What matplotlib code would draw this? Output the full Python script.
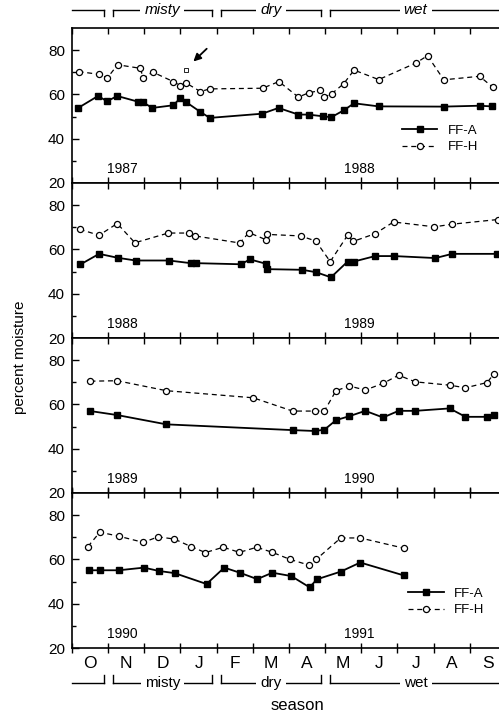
import matplotlib
matplotlib.use("Agg")
import matplotlib.pyplot as plt
from matplotlib.lines import Line2D
import matplotlib.transforms as mtransforms

# months counted from 1 October (0 = start of Oct, 12 = end of Sep)
month_labels = ['O', 'N', 'D', 'J', 'F', 'M', 'A', 'M', 'J', 'J', 'A', 'S']

# FF-A (closed squares), one list per panel
ffa_month = [
    [0.17, 0.72, 0.97, 1.25, 1.83, 1.97, 2.22, 2.80, 3.00, 3.15, 3.55, 3.81,
     5.26, 5.71, 6.26, 6.54, 6.95, 7.17, 7.51, 7.80, 8.48, 10.28, 11.27, 11.60],
    [0.23, 0.75, 1.27, 1.76, 2.68, 3.28, 3.43, 4.67, 4.92, 5.37, 5.38, 6.37,
     6.75, 7.16, 7.62, 7.79, 8.38, 8.91, 10.05, 10.51, 11.75],
    [0.51, 1.25, 2.61, 6.10, 6.72, 6.98, 7.30, 7.67, 8.11, 8.60, 9.03, 9.49,
     10.44, 10.88, 11.48, 11.66],
    [0.47, 0.78, 1.29, 1.99, 2.40, 2.84, 3.72, 4.21, 4.64, 5.12, 5.54, 6.06,
     6.57, 6.77, 7.43, 7.97, 9.17],
]
ffa_value = [
    [53.9, 59.3, 56.9, 59.3, 56.7, 56.4, 53.9, 55.1, 58.4, 56.6, 52.1, 49.4,
     51.3, 53.9, 50.9, 50.9, 50.1, 49.7, 52.8, 56.0, 54.6, 54.5, 54.9, 54.6],
    [53.2, 58.0, 56.2, 55.0, 55.0, 53.8, 53.8, 53.3, 55.5, 53.5, 51.1, 50.8,
     49.7, 47.4, 54.5, 54.5, 57.0, 57.0, 56.1, 58.0, 58.0],
    [57.0, 55.2, 51.0, 48.4, 48.0, 48.6, 52.9, 54.7, 57.1, 54.1, 57.1, 57.1,
     58.2, 54.4, 54.4, 55.2],
    [55.1, 55.1, 55.1, 56.3, 54.8, 53.8, 48.9, 56.3, 54.0, 51.1, 54.0, 52.5,
     47.4, 51.0, 54.5, 58.6, 52.8],
]

# FF-H (open circles)
ffh_month = [
    [0.18, 0.75, 0.98, 1.26, 1.89, 1.97, 2.23, 2.80, 3.00, 3.15, 3.55, 3.81,
     5.27, 5.72, 6.26, 6.54, 6.86, 6.98, 7.18, 7.51, 7.80, 8.48, 9.51, 9.83,
     10.28, 11.27, 11.63],
    [0.21, 0.75, 1.25, 1.74, 2.66, 3.24, 3.40, 4.64, 4.89, 5.36, 5.38, 6.32,
     6.74, 7.14, 7.62, 7.77, 8.38, 8.89, 10.02, 10.51, 11.77],
    [0.51, 1.25, 2.61, 5.01, 6.10, 6.72, 6.98, 7.30, 7.67, 8.11, 8.60, 9.03,
     9.49, 10.44, 10.88, 11.48, 11.66],
    [0.44, 0.77, 1.29, 1.97, 2.38, 2.83, 3.29, 3.69, 4.18, 4.63, 5.11, 5.54,
     6.03, 6.56, 6.75, 7.43, 7.97, 9.17],
]
ffh_value = [
    [70.3, 69.1, 67.5, 73.4, 71.8, 67.3, 70.1, 65.8, 64.0, 65.2, 61.3, 62.5,
     62.8, 65.8, 58.8, 60.7, 61.8, 58.8, 60.3, 64.8, 71.0, 66.7, 74.2, 77.5,
     66.6, 68.2, 63.3],
    [69.1, 66.4, 71.7, 63.0, 67.4, 67.4, 66.1, 62.9, 67.6, 64.4, 66.8, 66.1,
     63.8, 54.5, 66.4, 63.6, 67.1, 72.4, 70.2, 71.4, 73.5],
    [70.5, 70.7, 66.2, 63.0, 57.0, 57.0, 57.1, 66.2, 68.3, 66.5, 69.5, 73.2,
     70.2, 68.7, 67.5, 69.9, 73.7],
    [65.8, 72.3, 70.5, 67.7, 70.2, 69.2, 65.8, 63.1, 65.5, 63.2, 65.5, 63.2,
     60.0, 57.4, 60.0, 69.7, 69.7, 65.1],
]

# single flagged sample (arrow) in the first panel
flag_month = [3.15]
flag_value = [71.2]

years_left = ['1987', '1988', '1989', '1990']
years_right = ['1988', '1989', '1990', '1991']

seasons = ['', 'misty', 'dry', 'wet']
season_start = [0, 1, 4, 7]
season_end = [1, 4, 7, 12]

W, H = 499, 716
fig = plt.figure(figsize=(W / 100, H / 100), dpi=100)
plt.rcParams['font.family'] = ['Liberation Sans', 'DejaVu Sans']

axes = []
for i in range(4):
    bottom_px = 648 - 155 * (3 - i)
    ax = fig.add_axes([72 / W, (H - bottom_px) / H, 434 / W, 155 / H])
    axes.append(ax)

    ax.plot(ffa_month[i], ffa_value[i], color='black', lw=1.3, marker='s',
            ms=4.8, mfc='black', mec='black', label='FF-A')
    ax.plot(ffh_month[i], ffh_value[i], color='black', lw=0.9, ls=(0, (4, 3)),
            marker='o', ms=4.4, mfc='white', mec='black', mew=0.9, label='FF-H')

    ax.set_xlim(0, 12)
    ax.set_ylim(20, 90)
    ax.set_yticks([20, 40, 60, 80])
    ax.set_yticks([30, 50, 70], minor=True)
    ax.set_xticks(range(13))
    ax.set_xticks([m + 0.5 for m in range(12)], minor=True)
    ax.tick_params(axis='y', which='major', direction='in', length=5, width=1,
                   labelsize=11, pad=5)
    ax.tick_params(axis='y', which='minor', direction='in', length=3, width=1)
    ax.tick_params(axis='x', which='major', direction='in', length=4, width=1,
                   top=True, labelbottom=False)
    ax.tick_params(axis='x', which='minor', length=0, labelbottom=False)
    ax.spines['right'].set_visible(False)
    for s in ['left', 'bottom', 'top']:
        ax.spines[s].set_linewidth(1.2)

    ax.text(0.115, 0.09, years_left[i], transform=ax.transAxes, ha='center',
            va='center', fontsize=10)
    ax.text(0.662, 0.09, years_right[i], transform=ax.transAxes, ha='center',
            va='center', fontsize=10)

# flagged point and arrow
axes[0].plot(flag_month, flag_value, ls='none', marker='s', ms=2.5,
             mfc='white', mec='black', mew=0.6)
axes[0].annotate('', xy=(3.30, 74.0), xytext=(3.78, 81.5),
                 arrowprops=dict(arrowstyle='-|>', color='black', lw=1.3,
                                 mutation_scale=11))

# legends
axes[0].legend(loc='upper left', bbox_to_anchor=(0.76, 0.376), frameon=False,
               fontsize=9.5, handlelength=2.7, handletextpad=0.8,
               labelspacing=0.32, borderpad=0, borderaxespad=0)
axes[3].legend(loc='upper left', bbox_to_anchor=(0.774, 0.389), frameon=False,
               fontsize=9.5, handlelength=2.7, handletextpad=0.8,
               labelspacing=0.32, borderpad=0, borderaxespad=0)

# month letters on the bottom panel
axb = axes[3]
axb.set_xticklabels(month_labels, minor=True)
axb.tick_params(axis='x', which='minor', labelbottom=True, labelsize=12.5, pad=6)
axb.tick_params(axis='x', which='major', direction='inout', length=7)


def season_brackets(ax, y_line, y_tick, italic):
    tr = mtransforms.blended_transform_factory(ax.transData, ax.transAxes)
    gap = 0.12
    for name, s, e in zip(seasons, season_start, season_end):
        x0 = s + gap if s > 0 else s
        x1 = e - gap if e < 12 else e + 0.5
        ax.add_line(Line2D([x0, x1], [y_line, y_line], transform=tr,
                           color='black', lw=1, clip_on=False))
        if s > 0:
            ax.add_line(Line2D([x0, x0], [y_tick, y_line], transform=tr,
                               color='black', lw=1, clip_on=False))
        if e < 12:
            ax.add_line(Line2D([x1, x1], [y_tick, y_line], transform=tr,
                               color='black', lw=1, clip_on=False))
        if name:
            ax.text((s + min(e, 12)) / 2, y_line, name, transform=tr,
                    ha='center', va='center', fontsize=11,
                    style='italic' if italic else 'normal',
                    bbox=dict(fc='white', ec='none', pad=3), zorder=5)


season_brackets(axes[0], 1.116, 1.077, True)
season_brackets(axes[3], -0.226, -0.174, False)

fig.text(297 / W, 1 - 705 / H, 'season', ha='center', va='center', fontsize=12)
fig.text(20 / W, 1 - 357 / H, 'percent moisture', ha='center', va='center',
         rotation=90, fontsize=11)

fig.savefig('out.png', dpi=100)
